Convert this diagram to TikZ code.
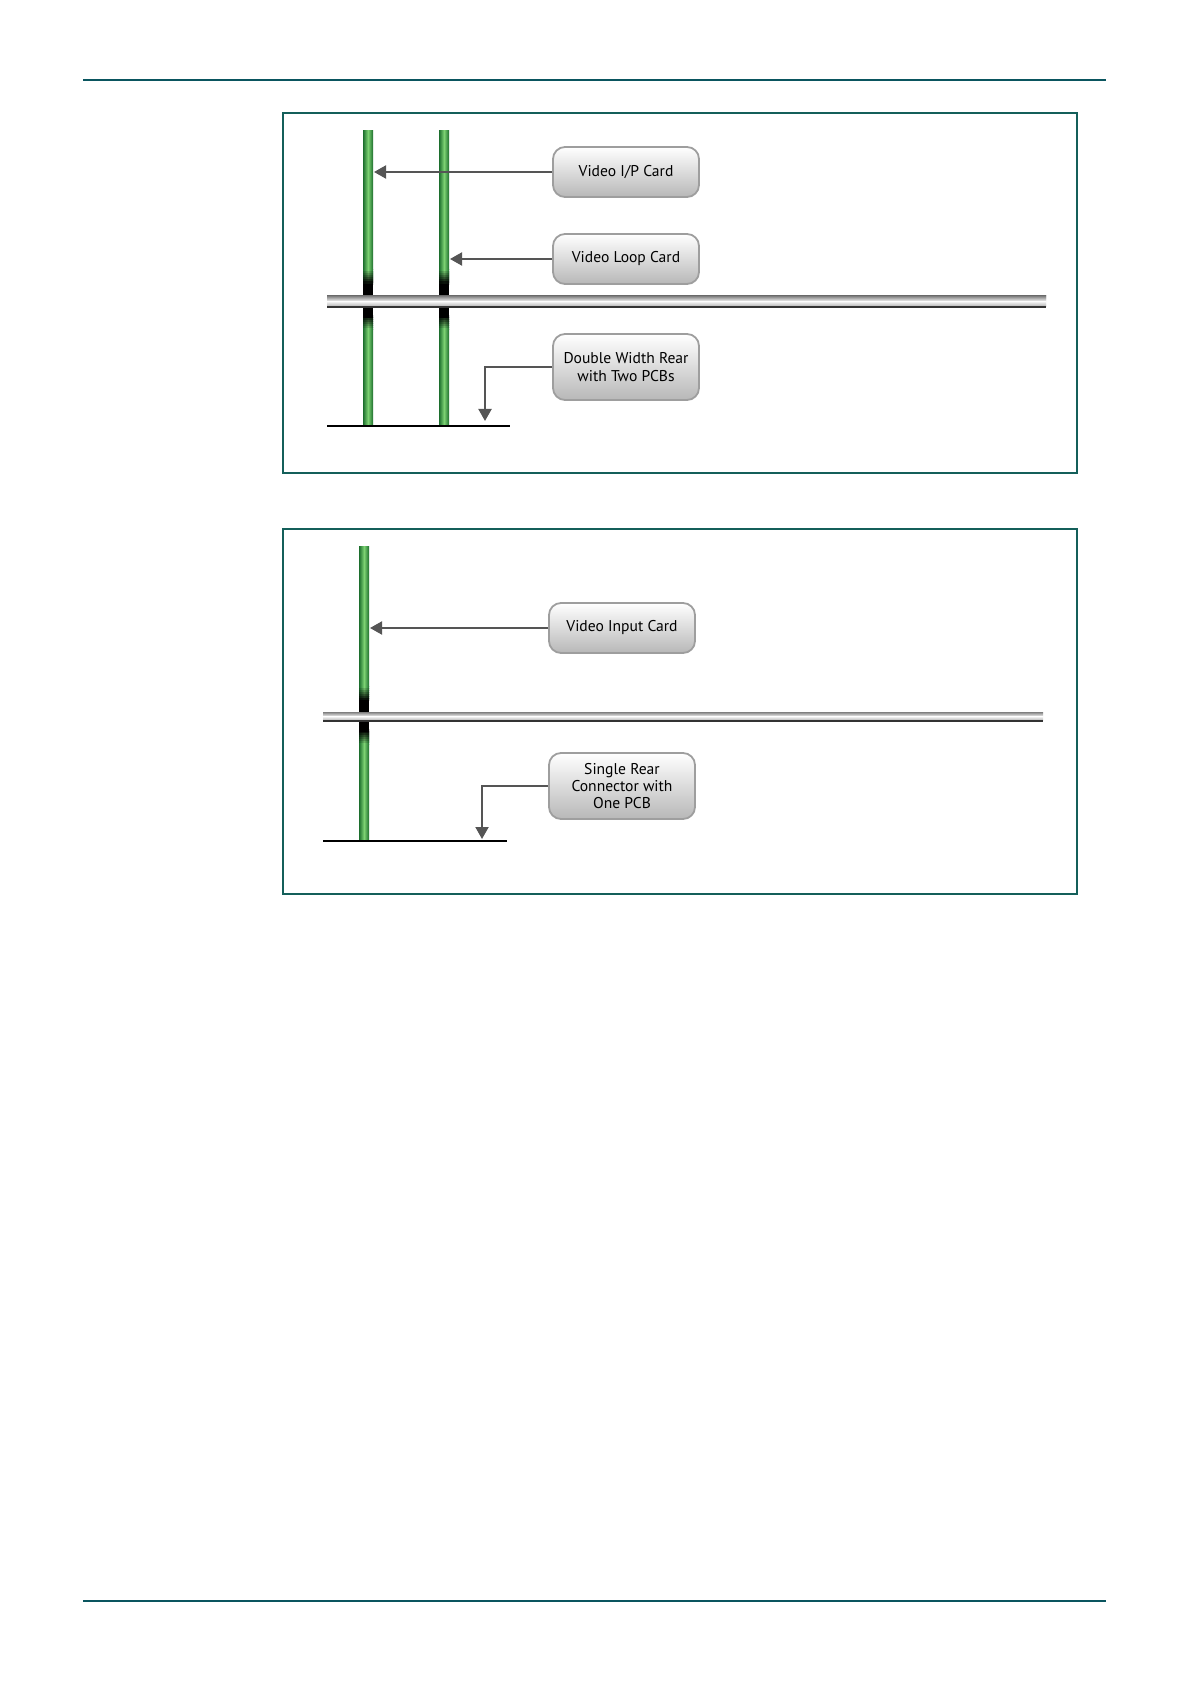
\documentclass[tikz,border=0pt]{standalone}
\usepackage{fontspec}
\setmainfont{PT Sans}
\usetikzlibrary{arrows.meta,positioning}
\definecolor{RuleT} {RGB}{10, 85, 95}
\definecolor{FrameT}{RGB}{20, 95, 90}
\definecolor{PcbD}  {RGB}{28,110, 45}
\definecolor{PcbL}  {RGB}{125,210,115}
\definecolor{PtrG}  {RGB}{85, 85, 85}
\tikzset{
  cardbox/.style={draw=black!38,line width=0.9pt,rounded corners=6pt,
    top color=white,bottom color=black!28,minimum width=73pt,
    align=center,font=\fontsize{7.8}{8.6}\selectfont,inner sep=2pt},
  pointer/.style={-{Triangle[length=6pt,width=6.5pt]},PtrG,line width=1pt},
  frame/.style={FrameT,line width=0.8pt},
  baseline/.style={black,line width=0.9pt},
  pcbgreen/.style={left color=PcbD!#1!black,right color=PcbD!#1!black,middle color=PcbL!#1!black},
  pcbgreen/.default=100,
}
% one PCB: x, top, rail top, rail bottom, bottom
\newcommand{\pcbbar}[5]{%
  \shade[pcbgreen] (#1-5,#2) rectangle (#1+5,#3-26);
  \foreach \k in {0,...,6}{
    \pgfmathtruncatemacro{\pc}{100-\k*15}
    \shade[pcbgreen=\pc] (#1-5,#3-26+\k*2) rectangle (#1+5,#3-24+\k*2+0.5);
    \shade[pcbgreen=\pc] (#1-5,#4+22-\k*2) rectangle (#1+5,#4+20-\k*2-0.5);
  }
  \fill[black] (#1-5,#3-12) rectangle (#1+5,#4+10);
  \shade[pcbgreen] (#1-5,#4+22) rectangle (#1+5,#5);
}
% the frame rail: left, right, top, bottom
\newcommand{\rail}[4]{%
  \shade[top color=black!50,bottom color=black!3] (#1,#3) rectangle (#2,#3*0.55+#4*0.45);
  \shade[top color=black!3,bottom color=black!30] (#1,#3*0.55+#4*0.45) rectangle (#2,#4-1.6);
  \fill[black!80] (#1,#4-1.6) rectangle (#2,#4);
}
\begin{document}
\begin{tikzpicture}[x=0.5pt,y=-0.5pt]
  \useasboundingbox (0,0) rectangle (1190,1684);
  \draw[RuleT,line width=0.8pt] (83,80) -- (1106,80);
  \draw[RuleT,line width=0.8pt] (83,1601) -- (1106,1601);

  % double width rear
  \draw[frame] (283,113) rectangle (1077,473);
  \foreach \x in {368,444}
    \pcbbar{\x}{131}{296}{308}{425}
  \rail{327}{1046}{296}{308}
  \draw[baseline] (327,426) -- (510,426);
  \node[cardbox,minimum height=25pt] (vipcard) at (626,172) {Video I/P Card};
  \node[cardbox,minimum height=25pt] (loopcard) at (626,259) {Video Loop Card};
  \node[cardbox,minimum height=33pt] (dblrear) at (626,367) {Double Width Rear\\with Two PCBs};
  \coordinate (vipend) at (374,172);
  \coordinate (loopend) at (450,259);
  \coordinate (dblend) at (485,421);
  \draw[pointer] (vipcard.west) -- (vipend);
  \draw[pointer] (loopcard.west) -- (loopend);
  \draw[pointer] (dblrear.west) -| (dblend);

  % single rear
  \draw[frame] (283,529) rectangle (1077,894);
  \pcbbar{364}{546}{712}{722}{840}
  \rail{323}{1043}{712}{722}
  \draw[baseline] (323,841) -- (507,841);
  \node[cardbox,minimum height=25pt] (inputcard) at (622,628) {Video Input Card};
  \node[cardbox,minimum height=33pt] (snglrear) at (622,786) {Single Rear\\Connector with\\One PCB};
  \coordinate (inputend) at (370,628);
  \coordinate (sglend) at (482,839);
  \draw[pointer] (inputcard.west) -- (inputend);
  \draw[pointer] (snglrear.west) -| (sglend);
\end{tikzpicture}
\end{document}
